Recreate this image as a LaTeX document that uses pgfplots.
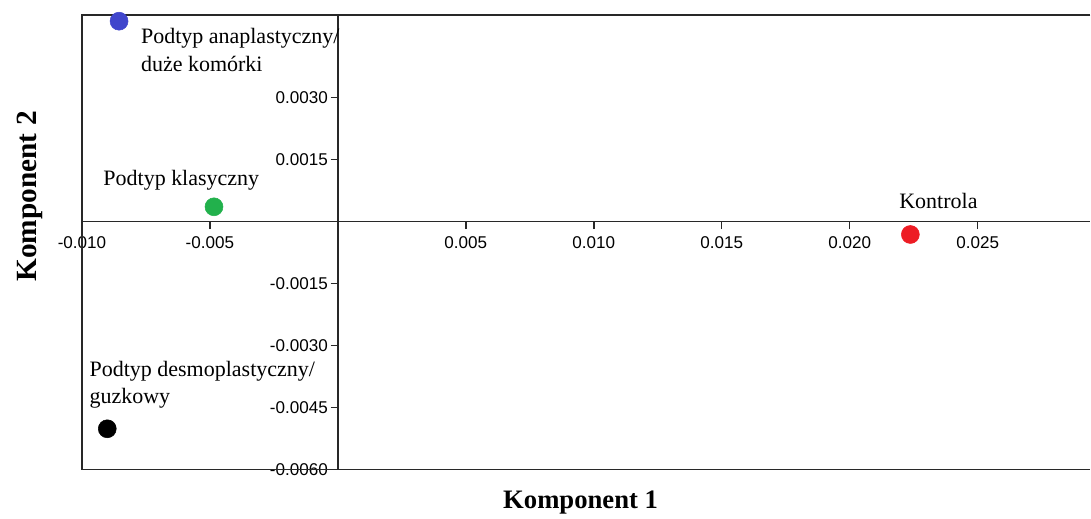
\documentclass[border=0pt]{standalone}
\usepackage{pgfplots}
\pgfplotsset{compat=1.18}
\usepackage{fontspec}
\setmainfont{Liberation Serif}
\newfontfamily\arial{Liberation Sans}

\definecolor{ptblue}{RGB}{64,70,204}
\definecolor{ptgreen}{RGB}{34,177,76}
\definecolor{ptred}{RGB}{237,28,36}
\definecolor{axgray}{RGB}{40,40,40}

\newcommand{\lbl}{\fontsize{16.5}{20}\selectfont}

\begin{document}
\begin{tikzpicture}
\begin{axis}[
  scale only axis,
  width=756.75pt, height=341.25pt,
  xmin=-0.010, xmax=0.0294,
  ymin=-0.0060, ymax=0.0050,
  axis lines=middle,
  axis line style={-, line width=1.1pt, axgray},
  tick align=outside,
  major tick length=5.5pt,
  tick style={line width=1.1pt, axgray},
  xtick={-0.010,-0.005,0.005,0.010,0.015,0.020,0.025},
  xticklabels={-0.010,-0.005,0.005,0.010,0.015,0.020,0.025},
  ytick={-0.006,-0.0045,-0.003,-0.0015,0.0015,0.003},
  yticklabels={-0.0060,-0.0045,-0.0030,-0.0015,0.0015,0.0030},
  ticklabel style={font=\arial\fontsize{12.8}{14}\selectfont},
  xticklabel style={yshift=-2pt},
  yticklabel style={xshift=1.5pt},
  scaled ticks=false,
  clip=false,
  xlabel={Komponent 1},
  ylabel={Komponent 2},
  every axis x label/.style={at={(rel axis cs:0.4945,0)}, yshift=-29.25pt, anchor=base,
    font=\bfseries\fontsize{20}{22}\selectfont},
  every axis y label/.style={at={(rel axis cs:0,0.601)}, xshift=-33.75pt, rotate=90, anchor=base,
    font=\bfseries\fontsize{22}{24}\selectfont},
]
% frame on the left, top and bottom
\draw[line width=1.1pt, axgray] (rel axis cs:1,1) -- (rel axis cs:0,1) -- (rel axis cs:0,0) -- (rel axis cs:1,0);

% group centroids
\addplot[only marks, mark=*, mark size=6.75pt, color=ptblue] coordinates {(-0.00855,0.00485)};
\addplot[only marks, mark=*, mark size=6.75pt, color=ptgreen] coordinates {(-0.00484,0.00036)};
\addplot[only marks, mark=*, mark size=6.75pt, color=ptred] coordinates {(0.02237,-0.00031)};
\addplot[only marks, mark=*, mark size=6.75pt, color=black] coordinates {(-0.00901,-0.00501)};

% group names
\node[anchor=base west, inner sep=0pt, font=\lbl] at (axis cs:-0.0077,0.00430) {Podtyp anaplastyczny/};
\node[anchor=base west, inner sep=0pt, font=\lbl] at (axis cs:-0.0077,0.00364) {duże komórki};
\node[anchor=base west, inner sep=0pt, font=\lbl] at (axis cs:-0.00917,0.000874) {Podtyp klasyczny};
\node[anchor=base west, inner sep=0pt, font=\lbl] at (axis cs:0.02193,0.000308) {Kontrola};
\node[anchor=base west, inner sep=0pt, font=\lbl] at (axis cs:-0.00971,-0.003755) {Podtyp desmoplastyczny/};
\node[anchor=base west, inner sep=0pt, font=\lbl] at (axis cs:-0.00971,-0.0044) {guzkowy};

% margins around the plot area
\path (rel axis cs:0,0) ++(-61.5pt,-33.75pt);
\path (rel axis cs:1,1) ++(0pt,11.25pt);
\end{axis}
\end{tikzpicture}
\end{document}
